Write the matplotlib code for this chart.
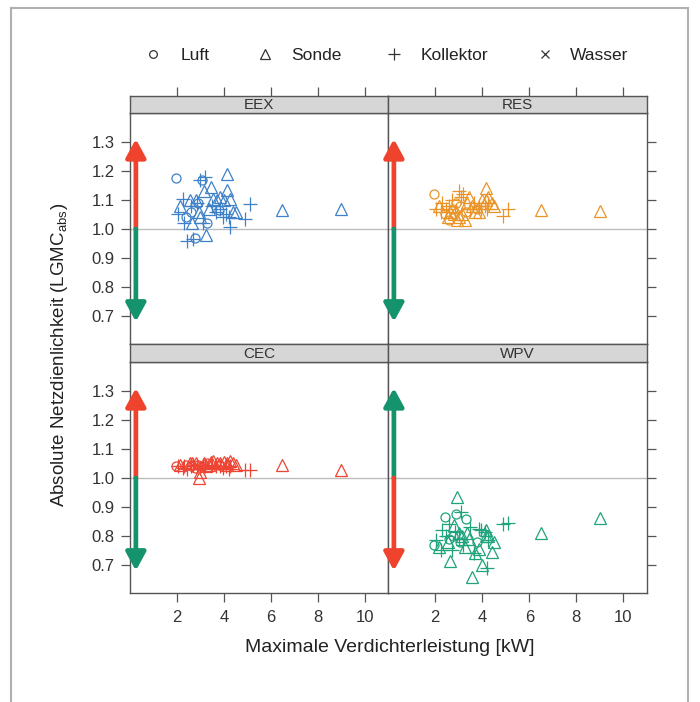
import matplotlib
matplotlib.use("Agg")
import matplotlib.pyplot as plt
from matplotlib.lines import Line2D

plt.rcParams["font.family"] = ["Liberation Sans", "DejaVu Sans"]

# ---------------------------------------------------------------------------
# data
# ---------------------------------------------------------------------------
leistung = [1.95, 2.05, 2.15, 2.25, 2.30, 2.40, 2.45, 2.55, 2.60, 2.60,
            2.65, 2.70, 2.75, 2.80, 2.85, 2.90, 2.95, 3.00, 3.00, 3.05,
            3.10, 3.15, 3.20, 3.25, 3.30, 3.35, 3.45, 3.50, 3.55, 3.65,
            3.70, 3.78, 3.85, 3.85, 3.95, 4.00, 4.10, 4.15, 4.15, 4.25,
            4.25, 4.20, 4.40, 4.50, 4.90, 5.10, 6.50, 9.00]
typ = ["Luft", "Kollektor", "Sonde", "Kollektor", "Kollektor", "Luft", "Kollektor", "Sonde", "Luft", "Kollektor",
       "Sonde", "Kollektor", "Luft", "Sonde", "Kollektor", "Luft", "Sonde", "Kollektor", "Sonde", "Luft",
       "Kollektor", "Sonde", "Kollektor", "Sonde", "Luft", "Sonde", "Sonde", "Kollektor", "Sonde", "Kollektor",
       "Sonde", "Luft", "Kollektor", "Sonde", "Kollektor", "Sonde", "Kollektor", "Sonde", "Sonde", "Kollektor",
       "Sonde", "Kollektor", "Sonde", "Sonde", "Kollektor", "Kollektor", "Sonde", "Sonde"]

eex = [1.175, 1.05, 1.08, 1.105, 1.02, 1.04, 0.958, 1.10, 1.06, 1.08,
       1.02, 0.965, 0.97, 1.10, 1.09, 1.09, 1.06, 1.17, 1.04, 1.17,
       1.02, 1.13, 1.18, 0.98, 1.02, 1.07, 1.146, 1.08, 1.105, 1.06,
       1.10, 1.065, 1.07, 1.11, 1.04, 1.10, 1.05, 1.19, 1.135, 1.007,
       1.105, 1.04, 1.06, 1.057, 1.034, 1.086, 1.064, 1.07]
res = [1.12, 1.07, 1.08, 1.06, 1.09, 1.05, 1.07, 1.04, 1.03, 1.08,
       1.06, 1.10, 1.07, 1.05, 1.06, 1.09, 1.03, 1.13, 1.04, 1.08,
       1.11, 1.05, 1.12, 1.03, 1.06, 1.09, 1.11, 1.07, 1.08, 1.09,
       1.06, 1.07, 1.08, 1.06, 1.07, 1.10, 1.08, 1.14, 1.10, 1.09,
       1.11, 1.07, 1.09, 1.08, 1.045, 1.068, 1.067, 1.063]
cec = [1.04, 1.04, 1.045, 1.035, 1.04, 1.045, 1.03, 1.05, 1.04, 1.04,
       1.05, 1.045, 1.035, 1.05, 1.04, 1.045, 1.00, 1.035, 1.02, 1.04,
       1.045, 1.05, 1.04, 1.04, 1.05, 1.045, 1.055, 1.045, 1.06, 1.04,
       1.05, 1.045, 1.04, 1.05, 1.035, 1.055, 1.04, 1.045, 1.05, 1.04,
       1.06, 1.03, 1.05, 1.045, 1.029, 1.029, 1.043, 1.029]
wpv = [0.77, 0.785, 0.76, 0.75, 0.82, 0.866, 0.80, 0.78, 0.79, 0.84,
       0.712, 0.75, 0.80, 0.838, 0.815, 0.875, 0.935, 0.79, 0.81, 0.78,
       0.883, 0.80, 0.77, 0.76, 0.86, 0.81, 0.79, 0.83, 0.658, 0.74,
       0.74, 0.78, 0.823, 0.755, 0.82, 0.70, 0.815, 0.80, 0.82, 0.786,
       0.80, 0.69, 0.744, 0.78, 0.84, 0.843, 0.81, 0.863]

panels = ["EEX", "RES", "CEC", "WPV"]
werte = [eex, res, cec, wpv]
panel_farben = ["#3f81c9", "#ea9428", "#ee4433", "#1fa37c"]
pfeil_oben = ["rot", "rot", "rot", "gruen"]

legende_typen = ["Luft", "Sonde", "Kollektor", "Wasser"]
x_ticks = [2, 4, 6, 8, 10]
y_ticks = [0.7, 0.8, 0.9, 1.0, 1.1, 1.2, 1.3]

# ---------------------------------------------------------------------------
# style
# ---------------------------------------------------------------------------
ROT = "#f0432e"
GRUEN = "#14936c"
FRAME = "#555555"
STRIP = "#d6d6d6"
MARKER = {"Luft": ("o", 6.5), "Sonde": ("^", 8.0),
          "Kollektor": ("+", 9.5), "Wasser": ("x", 7.0)}

W, H = 700, 702
fig = plt.figure(figsize=(W / 100, H / 100), dpi=100)


def fx(px):
    return px / W


def fy(py):
    return 1 - py / H


cols = [(130, 388), (388, 647)]
rows = [(113, 344, 96), (362, 593, 344)]

for i, name in enumerate(panels):
    r, c = divmod(i, 2)
    x0, x1 = cols[c]
    top, bot, stop = rows[r]
    ax = fig.add_axes([fx(x0), fy(bot), fx(x1) - fx(x0), fy(top) - fy(bot)])
    sx = fig.add_axes([fx(x0), fy(top), fx(x1) - fx(x0), fy(stop) - fy(top)])

    ax.set_xlim(0, 11)
    ax.set_ylim(0.603, 1.4)
    ax.axhline(1.0, color="#bdbdbd", lw=1.0, zorder=1)

    farbe = panel_farben[i]
    for t in legende_typen:
        xs = [x for x, tt in zip(leistung, typ) if tt == t]
        ys = [y for y, tt in zip(werte[i], typ) if tt == t]
        if not xs:
            continue
        m, s = MARKER[t]
        ax.plot(xs, ys, linestyle="none", marker=m, markersize=s,
                markerfacecolor="none", markeredgecolor=farbe,
                markeredgewidth=0.9, zorder=3)

    oben, unten = (ROT, GRUEN) if pfeil_oben[i] == "rot" else (GRUEN, ROT)
    for farbe_p, ende in ((oben, 1.31), (unten, 0.68)):
        ax.annotate("", xy=(0.25, ende), xytext=(0.25, 1.0),
                    arrowprops=dict(arrowstyle="-|>,head_length=0.55,head_width=0.3",
                                    mutation_scale=20, lw=3.4, color=farbe_p,
                                    shrinkA=0, shrinkB=0), zorder=4)

    for sp in ax.spines.values():
        sp.set_color(FRAME)
        sp.set_linewidth(1.0)
    ax.tick_params(colors=FRAME, labelcolor="#333333", labelsize=12,
                   length=6.2, width=0.9, direction="out")
    ax.tick_params(axis="y", pad=5)
    ax.tick_params(axis="x", pad=6)
    ax.set_yticks(y_ticks)
    ax.set_xticks(x_ticks)
    if c == 0:
        ax.yaxis.tick_left()
        ax.set_yticklabels([f"{v:.1f}" for v in y_ticks])
    else:
        ax.yaxis.tick_right()
        ax.tick_params(axis="y", labelright=False)
    if r == 1:
        ax.set_xticklabels([str(v) for v in x_ticks])
    else:
        ax.tick_params(axis="x", bottom=False, labelbottom=False)

    # strip
    sx.set_facecolor(STRIP)
    sx.set_xlim(0, 11)
    sx.set_yticks([])
    for sp in sx.spines.values():
        sp.set_color(FRAME)
        sp.set_linewidth(1.0)
    if r == 0:
        sx.set_xticks(x_ticks)
        sx.xaxis.tick_top()
        sx.tick_params(axis="x", colors=FRAME, length=6.5, width=0.9,
                       direction="out", labeltop=False)
    else:
        sx.set_xticks([])
    sx.text(0.5, 0.45, name, transform=sx.transAxes, ha="center",
            va="center", fontsize=11, color="#333333")

# legend row
leg_pos = [(153, 181), (265, 291), (394, 421), (545, 570)]
for t, (mx, tx) in zip(legende_typen, leg_pos):
    m, s = MARKER[t]
    fig.lines.append(Line2D([fx(mx)], [fy(54)], transform=fig.transFigure,
                            marker=m, markersize=s * 0.85, linestyle="none",
                            markerfacecolor="none", markeredgecolor="#333333",
                            markeredgewidth=0.9))
    fig.text(fx(tx), fy(55), t, ha="left", va="center", fontsize=12.5,
             color="#222222")

fig.text(fx(390), fy(648), "Maximale Verdichterleistung [kW]",
         ha="center", va="center", fontsize=14, color="#222222")
fig.text(fx(60), fy(355), r"Absolute Netzdienlichkeit (LGMC$_{\mathregular{abs}}$)",
         ha="center", va="center", rotation=90, fontsize=13.5, color="#222222")

# outer box
box = "#b0b0b0"
fig.lines.append(Line2D([fx(11), fx(11)], [0, fy(8)], transform=fig.transFigure,
                        color=box, lw=1.5))
fig.lines.append(Line2D([fx(11), fx(688)], [fy(8), fy(8)], transform=fig.transFigure,
                        color=box, lw=1.5))
fig.lines.append(Line2D([fx(688), fx(688)], [0, fy(8)], transform=fig.transFigure,
                        color=box, lw=1.5))

fig.savefig("out.png", dpi=100)
